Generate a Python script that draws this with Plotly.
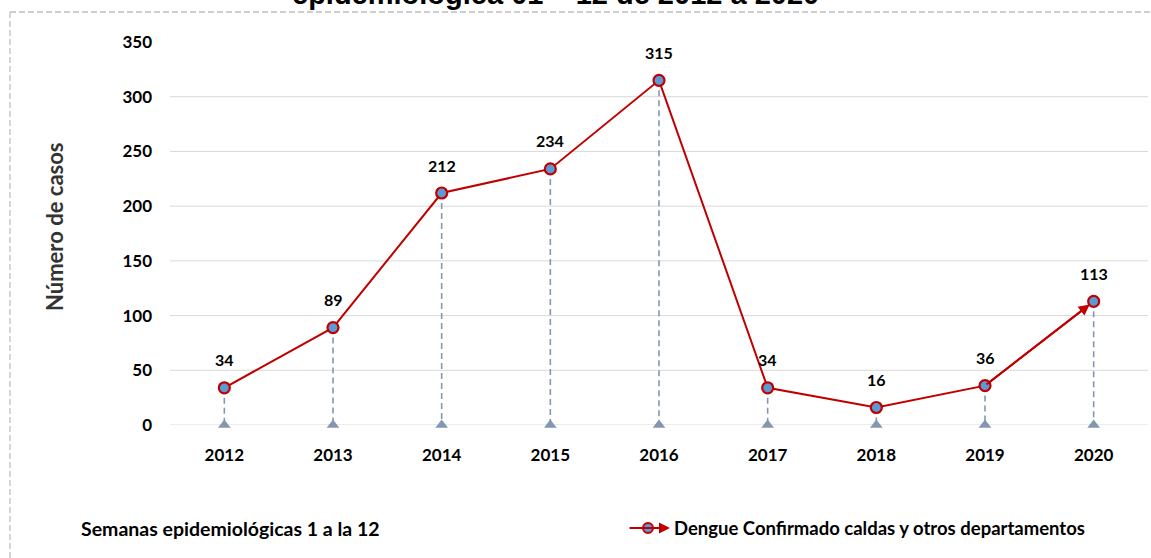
import plotly.graph_objects as go

years = [2012, 2013, 2014, 2015, 2016, 2017, 2018, 2019, 2020]
casos = [34, 89, 212, 234, 315, 34, 16, 36, 113]
y_ticks = [0, 50, 100, 150, 200, 250, 300, 350]

title_text = "epidemiológica 01 – 12 de 2012 a 2020"
y_title = "Número de casos"
foot_left = "Semanas epidemiológicas 1 a la 12"
series_name = "Dengue Confirmado caldas y otros departamentos"

RED = "#c00000"
BLUE = "#5b9bd5"
DROP = "#8497b0"
FONT = "Lato, 'Open Sans', sans-serif"

W, H = 1151, 558
L, R, T, B = 170, 3, 42, 133
pw, ph = W - L - R, H - T - B

def px_x(x):
    return (x - L) / pw

def px_y(y):
    return (H - B - y) / ph

fig = go.Figure()

# drop lines
dx, dy = [], []
for x, v in zip(years, casos):
    dx += [x, x, None]
    dy += [v, 0, None]
fig.add_trace(go.Scatter(x=dx, y=dy, mode="lines",
                         line=dict(color=DROP, width=1.6, dash="6px,4px"),
                         hoverinfo="skip", showlegend=False))
fig.add_trace(go.Scatter(x=years, y=[0] * len(years), mode="markers",
                         marker=dict(symbol="triangle-up", size=11, color=DROP),
                         hoverinfo="skip", showlegend=False, cliponaxis=False))

# main series
fig.add_trace(go.Scatter(x=years, y=casos, mode="lines+markers",
                         line=dict(color=RED, width=2),
                         marker=dict(size=11, color=BLUE, line=dict(color=RED, width=2.2)),
                         showlegend=False, cliponaxis=False))

# data labels
for x, v in zip(years, casos):
    fig.add_annotation(x=x, y=v, xref="x", yref="y", text=f"<b>{v}</b>",
                       showarrow=False, yshift=28,
                       font=dict(family=FONT, size=16, color="#000000"),
                       xanchor="center", yanchor="middle")

# arrow on last segment
fig.add_annotation(x=years[-1], y=casos[-1], ax=years[-2], ay=casos[-2],
                   xref="x", yref="y", axref="x", ayref="y",
                   text="", showarrow=True, arrowhead=2, arrowsize=1.1,
                   arrowwidth=2, arrowcolor=RED, standoff=5)

# gridlines (none on top tick)
for yv in y_ticks[:-1]:
    fig.add_shape(type="line", xref="paper", yref="y", x0=0, x1=1, y0=yv, y1=yv,
                  line=dict(color="#d9d9d9", width=1), layer="below")

# dashed frame
fig.add_shape(type="line", xref="paper", yref="paper",
              x0=px_x(10), x1=px_x(W), y0=px_y(12), y1=px_y(12),
              line=dict(color="#bfbfbf", width=1.3, dash="6px,3px"))
fig.add_shape(type="line", xref="paper", yref="paper",
              x0=px_x(10), x1=px_x(10), y0=px_y(12), y1=px_y(H + 5),
              line=dict(color="#bfbfbf", width=1.3, dash="6px,3px"))

# title (cut off at top, as in the reference)
fig.add_annotation(x=px_x(555), y=px_y(11), xref="paper", yref="paper",
                   text=f"<b>{title_text}</b>", showarrow=False,
                   font=dict(family="Liberation Sans, Arial", size=29, color="#000000"),
                   xanchor="center", yanchor="bottom", borderpad=0)

# y axis title
fig.add_annotation(x=px_x(54), y=px_y(227), xref="paper", yref="paper",
                   text=f"<b>{y_title}</b>", showarrow=False, textangle=-90,
                   font=dict(family=FONT, size=22, color="#333333"),
                   xanchor="center", yanchor="middle")

# bottom-left text
fig.add_annotation(x=px_x(79), y=px_y(528), xref="paper", yref="paper",
                   text=f"<b>{foot_left}</b>", showarrow=False,
                   font=dict(family=FONT, size=19.5, color="#000000"),
                   xanchor="left", yanchor="middle")

# legend
fig.add_annotation(x=px_x(670), y=px_y(528), ax=-42, ay=0,
                   xref="paper", yref="paper", axref="pixel", ayref="pixel",
                   text="", showarrow=True, arrowhead=2, arrowsize=1.1,
                   arrowwidth=2, arrowcolor=RED)
fig.add_shape(type="circle", xref="paper", yref="paper",
              x0=px_x(643), x1=px_x(653), y0=px_y(523), y1=px_y(533),
              fillcolor=BLUE, line=dict(color=RED, width=2))
fig.add_annotation(x=px_x(672), y=px_y(528), xref="paper", yref="paper",
                   text=f"<b>{series_name}</b>", showarrow=False,
                   font=dict(family=FONT, size=18.5, color="#000000"),
                   xanchor="left", yanchor="middle")

fig.update_layout(
    width=W, height=H,
    margin=dict(l=L, r=R, t=T, b=B, autoexpand=False),
    paper_bgcolor="white", plot_bgcolor="white",
    font=dict(family=FONT, size=17, color="#000000"),
    xaxis=dict(range=[years[0] - 0.5, years[-1] + 0.5], tickvals=years,
               ticktext=[f"<b>{y}</b>" for y in years], showgrid=False,
               zeroline=False, showline=False, ticks="", ticklabelstandoff=18,
               tickfont=dict(family=FONT, size=17, color="#000000")),
    yaxis=dict(range=[0, 350], tickvals=y_ticks,
               ticktext=[f"<b>{v}</b>" for v in y_ticks], showgrid=False,
               zeroline=False, showline=False, ticks="", ticklabelstandoff=17,
               tickfont=dict(family=FONT, size=17, color="#000000")),
)

fig.write_html("out.html", config={"displayModeBar": False},
               post_script="document.body.style.margin='0';")
